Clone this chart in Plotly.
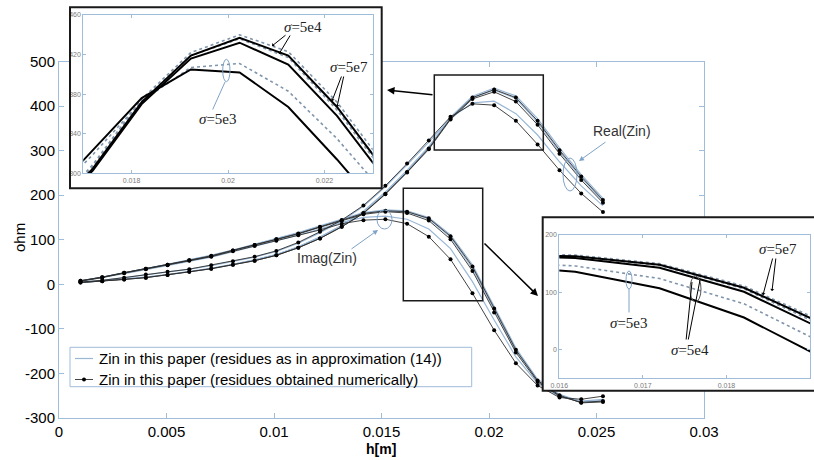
import plotly.graph_objects as go

W, H = 814, 460
def px(x): return x / W
def py(y): return 1 - y / H

# ---------------- data ----------------
h = [0.00100, 0.00201, 0.00303, 0.00404, 0.00505, 0.00606, 0.00708, 0.00809, 0.00910,
     0.01011, 0.01113, 0.01214, 0.01315, 0.01416, 0.01518, 0.01619, 0.01720, 0.01821,
     0.01923, 0.02024, 0.02125, 0.02226, 0.02328, 0.02429, 0.02530]

# residues obtained numerically (black, markers)
re_5e3 = [5, 9, 15, 22, 28, 34, 43, 52, 62, 75, 94, 118, 144, 177, 221, 271, 323, 376, 405, 402, 367, 314, 256, 204, 162]
re_5e4 = [4, 7, 11, 15, 21, 28, 35, 44, 53, 65, 82, 103, 129, 159, 202, 251, 303, 370, 416, 432, 410, 358, 293, 234, 183]
re_5e7 = [4, 7, 11, 15, 21, 28, 35, 44, 53, 65, 82, 103, 129, 160, 203, 252, 305, 372, 419, 437, 419, 367, 301, 242, 189]
im_5e3 = [7, 15, 25, 34, 43, 53, 62, 74, 86, 98, 110, 122, 136, 144, 146, 136, 107, 56, -20, -103, -177, -227, -254, -258, -251]
im_5e4 = [8, 16, 26, 35, 44, 54, 63, 76, 88, 101, 113, 128, 143, 157, 163, 160, 143, 101, 30, -63, -153, -219, -251, -265, -262]
im_5e7 = [8, 16, 26, 35, 44, 54, 64, 76, 88, 101, 114, 129, 144, 159, 165, 163, 148, 108, 40, -54, -147, -216, -249, -266, -264]

# residues as in approximation (14) (light blue)
re_5e3_b = [5, 9, 15, 21, 27, 34, 42, 51, 61, 74, 92, 116, 142, 175, 219, 268, 319, 373, 407, 411, 383, 335, 275, 221, 176]
re_5e4_b = [4, 8, 12, 16, 22, 29, 36, 45, 55, 67, 84, 106, 132, 163, 206, 255, 307, 373, 419, 436, 417, 364, 298, 239, 187]
re_5e7_b = [4, 8, 12, 16, 22, 29, 36, 45, 55, 67, 84, 106, 132, 164, 207, 256, 309, 375, 422, 440, 423, 372, 306, 246, 193]
im_5e3_b = [7, 15, 24, 33, 42, 52, 61, 73, 85, 97, 110, 124, 139, 150, 153, 146, 124, 80, 6, -80, -163, -222, -252, -262, -258]
im_5e4_b = [8, 16, 26, 35, 45, 55, 65, 77, 89, 102, 115, 130, 145, 159, 165, 163, 147, 106, 36, -57, -149, -216, -249, -264, -261]
im_5e7_b = [8, 16, 26, 35, 45, 55, 65, 77, 90, 103, 116, 131, 146, 161, 167, 165, 150, 111, 44, -50, -143, -213, -247, -263, -262]

x_ticks = [0, 0.005, 0.01, 0.015, 0.02, 0.025, 0.03]
x_ticktext = ["0", "0.005", "0.01", "0.015", "0.02", "0.025", "0.03"]
y_ticks = [-300, -200, -100, 0, 100, 200, 300, 400, 500]
y_ticktext = ["-300", "-200", "-100", "0", "100", "200", "300", "400", "500"]

in1_xticks = [0.018, 0.02, 0.022]
in1_xtext = ["0.018", "0.02", "0.022"]
in1_yticks = [300, 340, 380, 420, 460]
in2_xticks = [0.016, 0.017, 0.018, 0.019]
in2_xtext = ["0.016", "0.017", "0.018", "0.019"]
in2_yticks = [0, 100, 200]

legend_labels = ["Zin in this paper (residues as in approximation (14))",
                 "Zin in this paper (residues obtained numerically)"]

# ---------------- styles ----------------
AX = '#9fbcd9'
BLUE = '#9ab8d6'
DARK = '#2e2e2e'
SANS = 'Liberation Sans, Arial, sans-serif'
SERIF = 'Liberation Serif, DejaVu Serif, serif'

fig = go.Figure()

blue_all = [re_5e3_b, re_5e4_b, re_5e7_b, im_5e3_b, im_5e4_b, im_5e7_b]
black_all = [re_5e3, re_5e4, re_5e7, im_5e3, im_5e4, im_5e7]

# main plot
for s in blue_all:
    fig.add_trace(go.Scatter(x=h, y=s, mode='lines', line=dict(color=BLUE, width=1.2),
                             xaxis='x', yaxis='y', showlegend=False, hoverinfo='skip'))
for s in black_all:
    fig.add_trace(go.Scatter(x=h, y=s, mode='lines+markers', line=dict(color=DARK, width=0.9),
                             marker=dict(color='black', size=4),
                             xaxis='x', yaxis='y', showlegend=False, hoverinfo='skip'))

# cover for inset 1
fig.add_trace(go.Scatter(x=[], y=[], xaxis='x2', yaxis='y2', showlegend=False))
# inset 1 (real part)
for s in [re_5e3_b, re_5e4_b, re_5e7_b]:
    fig.add_trace(go.Scatter(x=h, y=s, mode='lines', line=dict(color='#7f95ab', width=1.6, dash='dot'),
                             xaxis='x3', yaxis='y3', showlegend=False, hoverinfo='skip'))
for s in [re_5e3, re_5e4, re_5e7]:
    fig.add_trace(go.Scatter(x=h, y=s, mode='lines', line=dict(color='black', width=2),
                             xaxis='x3', yaxis='y3', showlegend=False, hoverinfo='skip'))
# cover for inset 2
fig.add_trace(go.Scatter(x=[], y=[], xaxis='x4', yaxis='y4', showlegend=False))
# inset 2 (imag part)
for s in [im_5e3_b, im_5e4_b, im_5e7_b]:
    fig.add_trace(go.Scatter(x=h, y=s, mode='lines', line=dict(color='#7f95ab', width=1.6, dash='dot'),
                             xaxis='x5', yaxis='y5', showlegend=False, hoverinfo='skip'))
for s in [im_5e3, im_5e4, im_5e7]:
    fig.add_trace(go.Scatter(x=h, y=s, mode='lines', line=dict(color='black', width=2),
                             xaxis='x5', yaxis='y5', showlegend=False, hoverinfo='skip'))

main_ax = dict(showline=True, linecolor=AX, linewidth=1, mirror='ticks', ticks='inside',
               ticklen=5, tickcolor=AX, showgrid=False, zeroline=False, automargin=False,
               tickfont=dict(family=SANS, size=15, color='black'))
inset_ax = dict(showline=True, linecolor=AX, linewidth=1, mirror='ticks', ticks='inside',
                ticklen=3, tickcolor=AX, showgrid=False, zeroline=False, automargin=False,
                tickfont=dict(family=SANS, size=7, color='#7a7a7a'))
hidden = dict(visible=False, range=[0, 1], fixedrange=True, automargin=False)

fig.update_layout(
    width=W, height=H, margin=dict(l=0, r=0, t=0, b=0, pad=0, autoexpand=False),
    paper_bgcolor='white', plot_bgcolor='rgba(0,0,0,0)', showlegend=False,
    xaxis=dict(domain=[px(59), px(704)], range=[0, 0.03], tickvals=x_ticks, ticktext=x_ticktext,
               anchor='y', **main_ax),
    yaxis=dict(domain=[py(418), py(61.5)], range=[-300, 500], tickvals=y_ticks, ticktext=y_ticktext,
               anchor='x', **main_ax),
    xaxis2=dict(domain=[px(70), px(381.7)], anchor='y2', **hidden),
    yaxis2=dict(domain=[py(188.3), py(7.3)], anchor='x2', **hidden),
    xaxis3=dict(domain=[px(83.3), px(372.7)], range=[0.017, 0.023], tickvals=in1_xticks,
                ticktext=in1_xtext, anchor='y3', **inset_ax),
    yaxis3=dict(domain=[py(173.3), py(15)], range=[300, 460], tickvals=in1_yticks, anchor='x3', **inset_ax),
    xaxis4=dict(domain=[px(542.7), 1.0], anchor='y4', **hidden),
    yaxis4=dict(domain=[py(390.7), py(217.3)], anchor='x4', **hidden),
    xaxis5=dict(domain=[px(559.3), px(810)], range=[0.016, 0.019], tickvals=in2_xticks,
                ticktext=in2_xtext, anchor='y5', **inset_ax),
    yaxis5=dict(domain=[py(378.3), py(235)], range=[-50, 200], tickvals=in2_yticks, anchor='x5', **inset_ax),
)

shapes = []
# white covers (drawn inside their cover subplots, above the main traces)
for xr, yr in [('x2', 'y2'), ('x4', 'y4')]:
    shapes.append(dict(type='rect', xref=xr, yref=yr, x0=0, x1=1, y0=0, y1=1, layer='below',
                       fillcolor='white', line=dict(width=0)))

def prect(x0, y0, x1, y1, color='#1a1a1a', width=2, fill=None):
    d = dict(type='rect', xref='paper', yref='paper', x0=px(x0), x1=px(x1), y0=py(y1), y1=py(y0),
             line=dict(color=color, width=width), layer='above')
    if fill:
        d['fillcolor'] = fill
    return d

shapes.append(prect(70, 7.3, 381.7, 188.3))
shapes.append(prect(542.7, 217.3, 818, 390.7))
shapes.append(prect(434.3, 75, 543.3, 150, width=1.5))
shapes.append(prect(403.3, 188.3, 482.7, 300.7, width=1.5))

def pellipse(x0, y0, x1, y1, color='#7fa3c8'):
    return dict(type='circle', xref='paper', yref='paper', x0=px(x0), x1=px(x1), y0=py(y1), y1=py(y0),
                line=dict(color=color, width=1), layer='above')

shapes.append(pellipse(563, 158, 577, 191))
shapes.append(pellipse(377, 210, 392, 229))
shapes.append(pellipse(222.7, 59.3, 230, 81.7))
shapes.append(pellipse(626, 271, 632, 289))
shapes.append(pellipse(690, 276, 701, 302, color='#555'))

# legend
shapes.append(prect(70, 347.3, 471.7, 386.7, color=AX, width=1, fill='white'))
shapes.append(dict(type='line', xref='paper', yref='paper', x0=px(75), x1=px(93), y0=py(358.5), y1=py(358.5),
                   line=dict(color=BLUE, width=1.2), layer='above'))
shapes.append(dict(type='line', xref='paper', yref='paper', x0=px(75), x1=px(93), y0=py(379.5), y1=py(379.5),
                   line=dict(color=DARK, width=0.9), layer='above'))
shapes.append(dict(type='circle', xref='paper', yref='paper', x0=px(82), x1=px(86), y0=py(381.5), y1=py(377.5),
                   fillcolor='black', line=dict(color='black', width=0), layer='above'))
fig.update_layout(shapes=shapes)

ann = []
def text(x, y, t, size=14, family=SANS, color='black', xanchor='center', **kw):
    d = dict(xref='paper', yref='paper', x=px(x), y=py(y), text=t, showarrow=False,
             xanchor=xanchor, yanchor='middle',
             font=dict(family=family, size=size, color=color))
    d.update(kw)
    return d

def arrow(hx, hy, tx, ty, color='black', width=1.2, head=2, size=1.0):
    return dict(xref='paper', yref='paper', x=px(hx), y=py(hy), ax=tx - hx, ay=ty - hy,
                axref='pixel', ayref='pixel', text='', showarrow=True, arrowhead=head,
                arrowsize=size, arrowwidth=width, arrowcolor=color)

ann.append(text(19, 238, 'ohm', size=15, textangle=-90))
ann.append(text(381, 449, '<b>h[m]</b>', size=14))
ann.append(text(97, 358.5, legend_labels[0], size=15, xanchor='left'))
ann.append(text(97, 379.5, legend_labels[1], size=15, xanchor='left'))

ann.append(text(622, 131, 'Real(Zin)', size=14, color='#333'))
ann.append(arrow(579, 161, 607, 141, color='#7fa3c8', width=1, head=2, size=1))
ann.append(text(327, 258, 'Imag(Zin)', size=14, color='#333'))
ann.append(arrow(378, 230, 350, 250, color='#7fa3c8', width=1, head=2, size=1))

# zoom arrows
ann.append(arrow(387, 90, 434, 95, width=1.5, head=2, size=1))
ann.append(arrow(538, 296, 483, 242, width=1.5, head=2, size=1))

# inset 1 labels
ann.append(text(303, 27, '<i>σ</i>=5e4', size=15, family=SERIF, color='#222'))
ann.append(arrow(272, 46, 287, 34, width=1, head=1, size=0.7))
ann.append(arrow(279, 54, 291, 34, width=1, head=1, size=0.7))
ann.append(text(349, 67, '<i>σ</i>=5e7', size=15, family=SERIF, color='#222'))
ann.append(arrow(332, 101, 342, 75, width=1, head=1, size=0.7))
ann.append(arrow(337, 107, 344, 75, width=1, head=1, size=0.7))
ann.append(text(218, 119, '<i>σ</i>=5e3', size=15, family=SERIF, color='#222'))
ann.append(arrow(225, 82, 212, 111, color='#7fa3c8', width=1, head=0))

# inset 2 labels
ann.append(text(778, 249, '<i>σ</i>=5e7', size=15, family=SERIF, color='#222'))
ann.append(arrow(763, 295, 773, 257, width=1, head=1, size=0.7))
ann.append(arrow(772, 291, 776, 257, width=1, head=1, size=0.7))
ann.append(text(629, 323, '<i>σ</i>=5e3', size=15, family=SERIF, color='#222'))
ann.append(arrow(629, 289, 629, 314, color='#7fa3c8', width=1, head=0))
ann.append(text(690, 350, '<i>σ</i>=5e4', size=15, family=SERIF, color='#222'))
ann.append(arrow(692, 282, 686, 341, width=1, head=0))
ann.append(arrow(700, 280, 688, 341, width=1, head=0))

fig.update_layout(annotations=ann)
fig.write_html("out.html", config={'displayModeBar': False},
               post_script="document.body.style.margin='0';document.body.style.overflow='hidden';")
